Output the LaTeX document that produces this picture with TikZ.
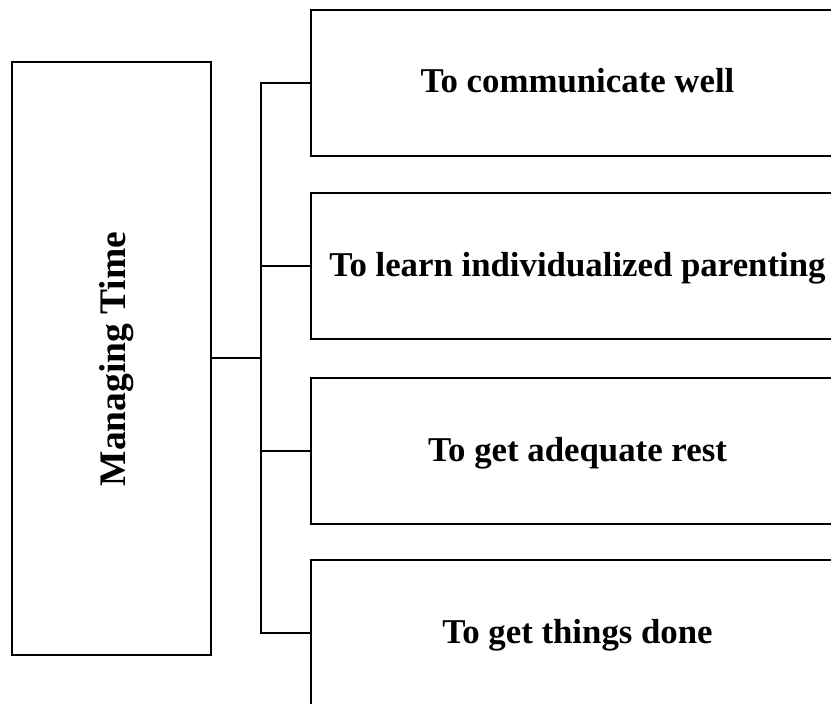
\documentclass[tikz,border=0pt]{standalone}
\usepackage{fontspec}
\setmainfont{Liberation Serif}
\begin{document}
\begin{tikzpicture}[x=1pt,y=-1pt,
  wire/.style={line width=2.1pt, line cap=rect, draw=black},
  hubbox/.style={draw=black, line width=2.1pt, inner sep=0pt, outer sep=0pt,
    minimum width=199pt, minimum height=593pt},
  goalbox/.style={draw=black, line width=2.1pt, inner sep=0pt, outer sep=0pt,
    minimum width=533pt, minimum height=146pt,
    font=\fontsize{34.8}{41}\selectfont\bfseries,
    text height=20pt, text depth=0pt},
  hubtext/.style={rotate=90, anchor=base, inner sep=0pt,
    font=\fontsize{37.5}{44}\selectfont\bfseries}]
  \useasboundingbox (0,0) rectangle (831,704);
  \clip (0,0) rectangle (831,704);

  % central topic
  \node[hubbox] (hub) at (111.5,358.3) {};
  \node[hubtext] (hublabel) at (125,359) {Managing Time};

  % goals
  \node[goalbox] (g1) at (577.5,82.7) {To communicate well};
  \node[goalbox] (g2) at (577.5,266) {To learn individualized parenting};
  \node[goalbox] (g3) at (577.5,451) {To get adequate rest};
  \node[goalbox] (g4) at (577.5,633.3) {To get things done};

  % bracket joining the topic to its goals
  \coordinate (spine) at (260.7,358.3);
  \draw[wire] (hub.east) -- (spine);
  \draw[wire] (spine |- g1.west) -- (spine |- g4.west);
  \foreach \g in {g1,g2,g3,g4}
    \draw[wire] (spine |- \g.west) -- (\g.west);
\end{tikzpicture}
\end{document}
